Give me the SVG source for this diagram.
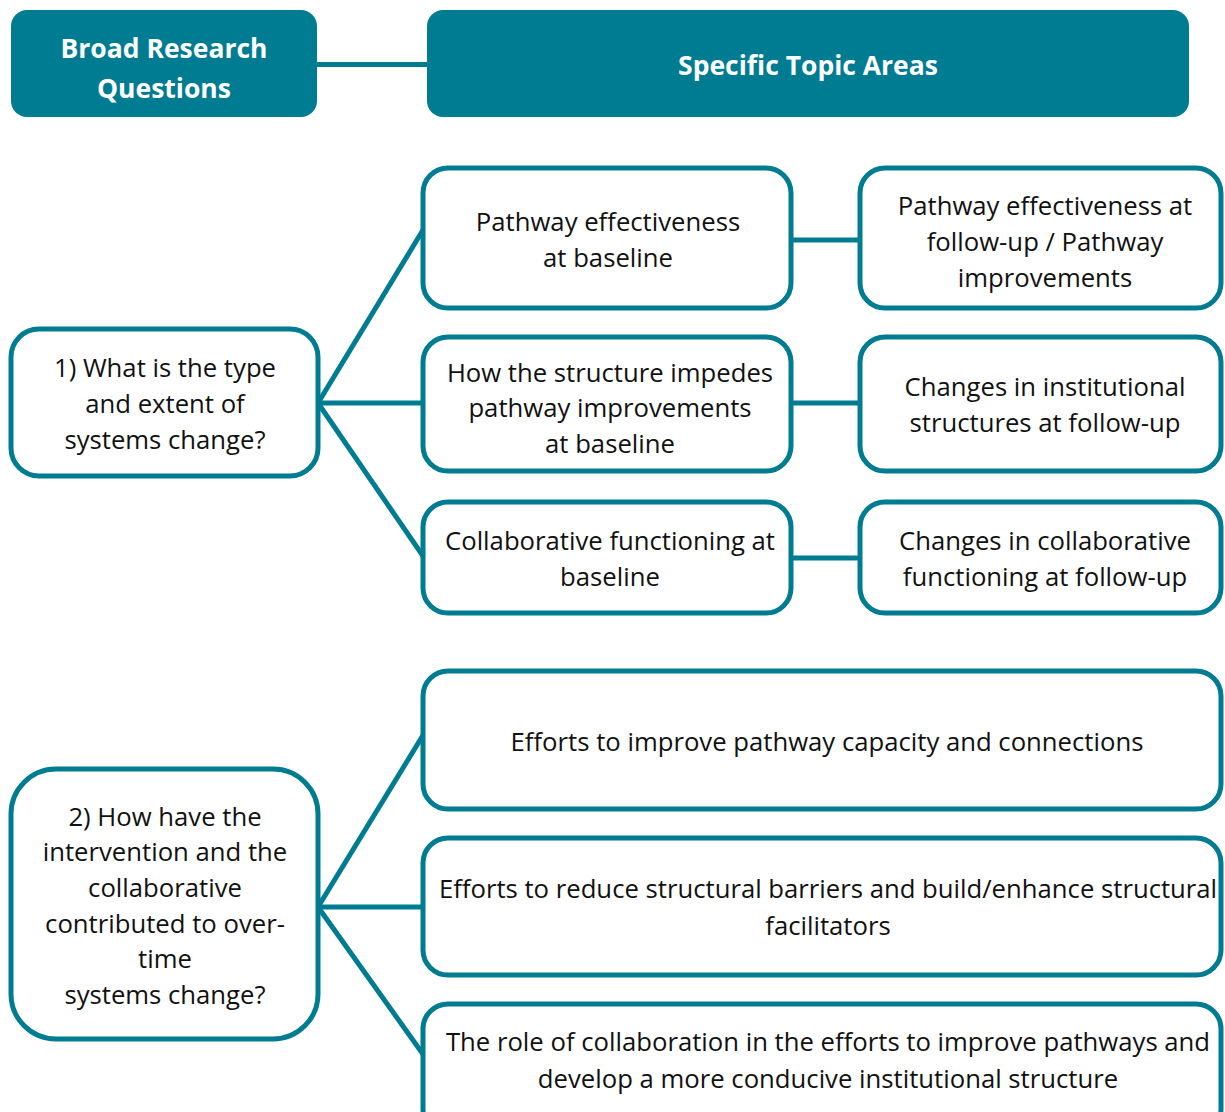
<svg xmlns="http://www.w3.org/2000/svg" width="1225" height="1112" viewBox="0 0 1225 1112">
<style>
.hdr{fill:#007C92;}
.box{fill:#fff;stroke:#007C92;stroke-width:5;}
.con{stroke:#007C92;stroke-width:5;fill:none;}
.ht{font-family:"Open Sans",sans-serif;font-weight:bold;font-size:26.5px;fill:#fff;text-anchor:middle;}
.t{font-family:"Open Sans",sans-serif;font-size:25.7px;fill:#111;text-anchor:middle;}
</style>
<rect width="1225" height="1112" fill="#fff"/>
<g id="connectors">
<line class="con" x1="317" y1="64.5" x2="427" y2="64.5"/>
<line class="con" x1="318" y1="403" x2="423" y2="230"/>
<line class="con" x1="318" y1="403" x2="423" y2="403"/>
<line class="con" x1="318" y1="403" x2="423" y2="556"/>
<line class="con" x1="791" y1="240" x2="860" y2="240"/>
<line class="con" x1="791" y1="403" x2="860" y2="403"/>
<line class="con" x1="791" y1="558" x2="860" y2="558"/>
<line class="con" x1="318" y1="907" x2="425" y2="732"/>
<line class="con" x1="318" y1="907" x2="425" y2="907"/>
<line class="con" x1="318" y1="907" x2="425" y2="1057"/>
</g>
<g id="header-questions">
<rect class="hdr" x="11" y="10" width="306" height="107" rx="16"/>
<text class="ht" x="164" y="58">Broad Research</text>
<text class="ht" x="164" y="98">Questions</text>
</g>
<g id="header-topics">
<rect class="hdr" x="427" y="10" width="762" height="107" rx="16"/>
<text class="ht" x="808" y="75">Specific Topic Areas</text>
</g>
<g id="q1">
<rect class="box" x="11" y="329" width="307" height="147" rx="28"/>
<text class="t" x="165" y="377">1) What is the type</text>
<text class="t" x="165" y="413">and extent of</text>
<text class="t" x="165" y="449">systems change?</text>
</g>
<g id="a1">
<rect class="box" x="423" y="168" width="368" height="140" rx="25"/>
<text class="t" x="608" y="231">Pathway effectiveness</text>
<text class="t" x="608" y="267">at baseline</text>
</g>
<g id="b1">
<rect class="box" x="860" y="168" width="361" height="140" rx="25"/>
<text class="t" x="1045" y="215">Pathway effectiveness at</text>
<text class="t" x="1045" y="251">follow-up / Pathway</text>
<text class="t" x="1045" y="287">improvements</text>
</g>
<g id="a2">
<rect class="box" x="423" y="337" width="368" height="134" rx="25"/>
<text class="t" x="610" y="382">How the structure impedes</text>
<text class="t" x="610" y="417">pathway improvements</text>
<text class="t" x="610" y="453">at baseline</text>
</g>
<g id="b2">
<rect class="box" x="860" y="337" width="361" height="134" rx="25"/>
<text class="t" x="1045" y="396">Changes in institutional</text>
<text class="t" x="1045" y="432">structures at follow-up</text>
</g>
<g id="a3">
<rect class="box" x="423" y="502" width="368" height="111" rx="25"/>
<text class="t" x="610" y="550">Collaborative functioning at</text>
<text class="t" x="610" y="586">baseline</text>
</g>
<g id="b3">
<rect class="box" x="860" y="502" width="361" height="111" rx="25"/>
<text class="t" x="1045" y="550">Changes in collaborative</text>
<text class="t" x="1045" y="586">functioning at follow-up</text>
</g>
<g id="q2">
<rect class="box" x="11" y="769" width="307" height="270" rx="45"/>
<text class="t" x="165" y="826">2) How have the</text>
<text class="t" x="165" y="861">intervention and the</text>
<text class="t" x="165" y="897">collaborative</text>
<text class="t" x="165" y="933">contributed to over-</text>
<text class="t" x="165" y="968">time</text>
<text class="t" x="165" y="1004">systems change?</text>
</g>
<g id="c1">
<rect class="box" x="423" y="671" width="798" height="138" rx="25"/>
<text class="t" x="827" y="751">Efforts to improve pathway capacity and connections</text>
</g>
<g id="c2">
<rect class="box" x="423" y="838" width="798" height="137" rx="25"/>
<text class="t" x="828" y="898">Efforts to reduce structural barriers and build/enhance structural</text>
<text class="t" x="828" y="935">facilitators</text>
</g>
<g id="c3">
<rect class="box" x="423" y="1004" width="798" height="130" rx="25"/>
<text class="t" x="828" y="1051">The role of collaboration in the efforts to improve pathways and</text>
<text class="t" x="828" y="1088">develop a more conducive institutional structure</text>
</g>
</svg>
